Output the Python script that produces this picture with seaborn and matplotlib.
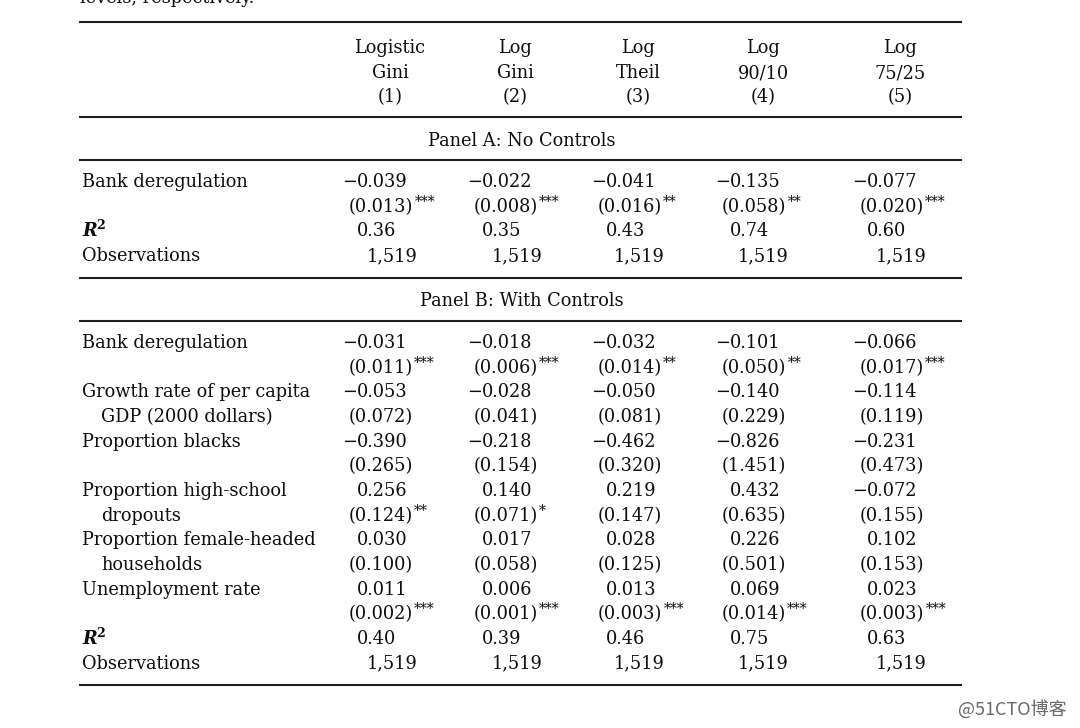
import seaborn as sns
import matplotlib.pyplot as plt

# ===============================
# 1. TABLE DATA
# ===============================
col_top = ["Logistic", "Log", "Log", "Log", "Log"]
col_mid = ["Gini", "Gini", "Theil", "90/10", "75/25"]
col_num = ["(1)", "(2)", "(3)", "(4)", "(5)"]

# Panel A: no controls
a_bank_coef = ["−0.039", "−0.022", "−0.041", "−0.135", "−0.077"]
a_bank_se = ["(0.013)", "(0.008)", "(0.016)", "(0.058)", "(0.020)"]
a_bank_star = ["***", "***", "**", "**", "***"]
a_r2 = ["0.36", "0.35", "0.43", "0.74", "0.60"]
a_obs = ["1,519", "1,519", "1,519", "1,519", "1,519"]

# Panel B: with controls
b_bank_coef = ["−0.031", "−0.018", "−0.032", "−0.101", "−0.066"]
b_bank_se = ["(0.011)", "(0.006)", "(0.014)", "(0.050)", "(0.017)"]
b_bank_star = ["***", "***", "**", "**", "***"]
growth_coef = ["−0.053", "−0.028", "−0.050", "−0.140", "−0.114"]
growth_se = ["(0.072)", "(0.041)", "(0.081)", "(0.229)", "(0.119)"]
blacks_coef = ["−0.390", "−0.218", "−0.462", "−0.826", "−0.231"]
blacks_se = ["(0.265)", "(0.154)", "(0.320)", "(1.451)", "(0.473)"]
dropout_coef = ["0.256", "0.140", "0.219", "0.432", "−0.072"]
dropout_se = ["(0.124)", "(0.071)", "(0.147)", "(0.635)", "(0.155)"]
dropout_star = ["**", "*", "", "", ""]
female_coef = ["0.030", "0.017", "0.028", "0.226", "0.102"]
female_se = ["(0.100)", "(0.058)", "(0.125)", "(0.501)", "(0.153)"]
unemp_coef = ["0.011", "0.006", "0.013", "0.069", "0.023"]
unemp_se = ["(0.002)", "(0.001)", "(0.003)", "(0.014)", "(0.003)"]
unemp_star = ["***", "***", "***", "***", "***"]
b_r2 = ["0.40", "0.39", "0.46", "0.75", "0.63"]
b_obs = ["1,519", "1,519", "1,519", "1,519", "1,519"]

no_star = [""] * 5

panel_a_rows = [
    (["Bank deregulation"], a_bank_coef, a_bank_se, a_bank_star),
]
panel_b_rows = [
    (["Bank deregulation"], b_bank_coef, b_bank_se, b_bank_star),
    (["Growth rate of per capita", "GDP (2000 dollars)"], growth_coef, growth_se, no_star),
    (["Proportion blacks"], blacks_coef, blacks_se, no_star),
    (["Proportion high-school", "dropouts"], dropout_coef, dropout_se, dropout_star),
    (["Proportion female-headed", "households"], female_coef, female_se, no_star),
    (["Unemployment rate"], unemp_coef, unemp_se, unemp_star),
]

# ===============================
# 2. STYLE
# ===============================
sns.set_theme(style="white")
plt.rcParams["font.family"] = ["DejaVu Serif"]

FS = 12.8
INK = "#0e0e0e"
STEP = 24.66

# column anchors (pixel space)
digit_x = [357, 482, 606, 730, 867]
se_x = [349, 474, 598, 722, 860]
obs_x = [367, 492, 614, 738, 876]
head_x = [390, 515, 638, 763, 900]
label_x = 82
indent_x = 101

fig = plt.figure(figsize=(10.8, 7.28), dpi=100)
ax = fig.add_axes([0, 0, 1, 1])
ax.set_xlim(0, 1080)
ax.set_ylim(728, 0)
ax.axis("off")
renderer = fig.canvas.get_renderer()


def txt(x, y, s, **kw):
    kw.setdefault("fontsize", FS)
    kw.setdefault("color", INK)
    kw.setdefault("va", "baseline")
    return ax.text(x, y, s, **kw)


def rule(y):
    ax.hlines(y, 79, 962, color="#1e1e1e", lw=1.5)


def coef_cell(i, y, s):
    if s.startswith("−"):
        txt(digit_x[i], y, "−", ha="right")
        s = s[1:]
    txt(digit_x[i], y, s, ha="left")


def se_cell(i, y, s, star):
    t = txt(se_x[i], y, s, ha="left")
    if star:
        bb = t.get_window_extent(renderer)
        x_end = ax.transData.inverted().transform((bb.x1, bb.y0))[0]
        txt(x_end + 1, y - 6, star, fontsize=10, ha="left")


def r2_row(y, vals):
    txt(label_x, y, "R", fontweight="bold", style="italic")
    txt(label_x + 14, y - 7, "2", fontsize=9, fontweight="bold")
    for i, v in enumerate(vals):
        txt(digit_x[i], y, v, ha="left")


def obs_row(y, vals):
    txt(label_x, y, "Observations")
    for i, v in enumerate(vals):
        txt(obs_x[i], y, v, ha="left")


def draw_rows(rows, y):
    for labels, coefs, ses, stars in rows:
        txt(label_x, y, labels[0])
        if len(labels) > 1:
            txt(indent_x, y + STEP, labels[1])
        for i in range(5):
            coef_cell(i, y, coefs[i])
            se_cell(i, y + STEP, ses[i], stars[i])
        y += 2 * STEP
    return y


# ===============================
# 3. DRAW TABLE
# ===============================
# caption line cut at the top edge, as in the scan
txt(80, 3, "levels, respectively.")
rule(22)
for i in range(5):
    txt(head_x[i], 53, col_top[i], ha="center")
    txt(head_x[i], 78, col_mid[i], ha="center")
    txt(head_x[i], 102, col_num[i], ha="center")
rule(117)

txt(522, 146, "Panel A: No Controls", ha="center")
rule(160)
y = draw_rows(panel_a_rows, 187)
r2_row(y, a_r2)
obs_row(y + STEP, a_obs)
rule(278)

txt(522, 306, "Panel B: With Controls", ha="center")
rule(321)
y = draw_rows(panel_b_rows, 348)
r2_row(y, b_r2)
obs_row(y + STEP, b_obs)
rule(685)

ax.text(1012, 709, "@51CTO博客", fontsize=13, color="#6a6a6a",
        ha="center", va="center",
        family=["Noto Sans CJK SC", "DejaVu Sans"])

fig.savefig("out.png", dpi=100, facecolor="white")
